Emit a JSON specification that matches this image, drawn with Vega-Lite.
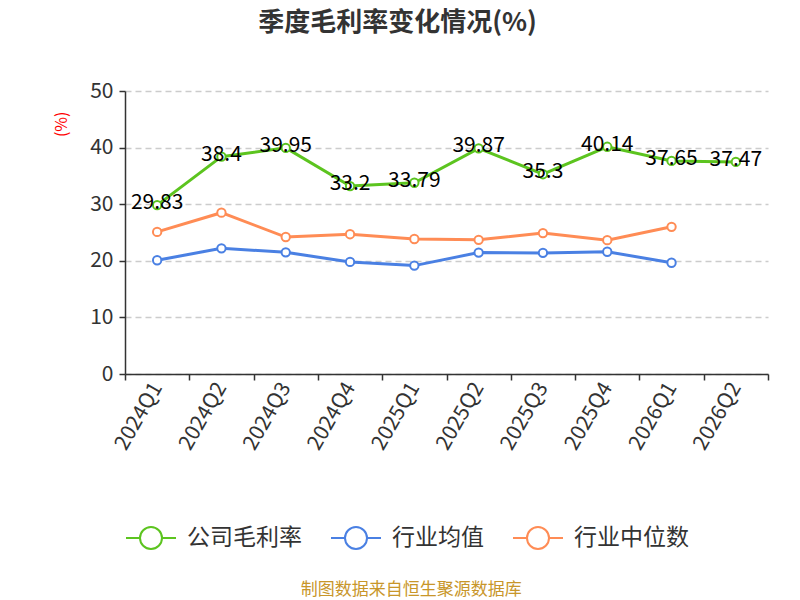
{
  "$schema": "https://vega.github.io/schema/vega-lite/v6.json",
  "background": "white",
  "padding": {"left": 53, "right": 20, "top": 10, "bottom": 0},
  "title": {
    "text": "制图数据来自恒生聚源数据库",
    "orient": "bottom",
    "anchor": "middle",
    "fontSize": 17,
    "fontWeight": "normal",
    "color": "#c8962a",
    "font": "Noto Sans CJK SC",
    "offset": 29
  },
  "config": {
    "font": "Noto Sans CJK SC",
    "view": {"stroke": null}
  },
  "datasets": {
    "rates": [
      {"q": "2024Q1", "series": "公司毛利率", "value": 29.83},
      {"q": "2024Q2", "series": "公司毛利率", "value": 38.4},
      {"q": "2024Q3", "series": "公司毛利率", "value": 39.95},
      {"q": "2024Q4", "series": "公司毛利率", "value": 33.2},
      {"q": "2025Q1", "series": "公司毛利率", "value": 33.79},
      {"q": "2025Q2", "series": "公司毛利率", "value": 39.87},
      {"q": "2025Q3", "series": "公司毛利率", "value": 35.3},
      {"q": "2025Q4", "series": "公司毛利率", "value": 40.14},
      {"q": "2026Q1", "series": "公司毛利率", "value": 37.65},
      {"q": "2026Q2", "series": "公司毛利率", "value": 37.47},
      {"q": "2024Q1", "series": "行业均值", "value": 20.1},
      {"q": "2024Q2", "series": "行业均值", "value": 22.2},
      {"q": "2024Q3", "series": "行业均值", "value": 21.5},
      {"q": "2024Q4", "series": "行业均值", "value": 19.8},
      {"q": "2025Q1", "series": "行业均值", "value": 19.15},
      {"q": "2025Q2", "series": "行业均值", "value": 21.45},
      {"q": "2025Q3", "series": "行业均值", "value": 21.4},
      {"q": "2025Q4", "series": "行业均值", "value": 21.6},
      {"q": "2026Q1", "series": "行业均值", "value": 19.65},
      {"q": "2024Q1", "series": "行业中位数", "value": 25.1},
      {"q": "2024Q2", "series": "行业中位数", "value": 28.5},
      {"q": "2024Q3", "series": "行业中位数", "value": 24.2},
      {"q": "2024Q4", "series": "行业中位数", "value": 24.7},
      {"q": "2025Q1", "series": "行业中位数", "value": 23.85},
      {"q": "2025Q2", "series": "行业中位数", "value": 23.7},
      {"q": "2025Q3", "series": "行业中位数", "value": 24.9},
      {"q": "2025Q4", "series": "行业中位数", "value": 23.65},
      {"q": "2026Q1", "series": "行业中位数", "value": 26.0}
    ]
  },
  "vconcat": [
    {
      "title": {
        "text": "季度毛利率变化情况(%)",
        "fontSize": 26,
        "fontWeight": "bold",
        "color": "#333333",
        "anchor": "middle",
        "dx": -49,
        "offset": 44
      },
      "width": 643,
      "height": 283,
      "data": {"name": "rates"},
      "encoding": {
        "x": {
          "field": "q",
          "type": "ordinal",
          "scale": {"paddingInner": 0, "paddingOuter": 0},
          "axis": {
            "title": null,
            "tickBand": "extent",
            "labelAngle": -60,
            "labelAlign": "right",
            "labelBaseline": "middle",
            "labelFontSize": 21,
            "labelColor": "#333333",
            "labelPadding": 4,
            "domainColor": "#333333",
            "domainWidth": 1.5,
            "tickColor": "#333333",
            "tickSize": 6,
            "tickWidth": 1.5
          }
        },
        "y": {
          "field": "value",
          "type": "quantitative",
          "scale": {"domain": [0, 50], "nice": false},
          "axis": {
            "title": "(%)",
            "titleColor": "red",
            "titleFontSize": 16,
            "titleFontWeight": "normal",
            "titleAnchor": "end",
            "titlePadding": 20,
            "titleY": 20,
            "values": [0, 10, 20, 30, 40, 50],
            "labelFontSize": 21,
            "labelColor": "#333333",
            "labelPadding": 6,
            "domainColor": "#333333",
            "domainWidth": 1.5,
            "tickColor": "#333333",
            "tickSize": 6,
            "tickWidth": 1.5,
            "gridColor": "#cccccc",
            "gridDash": [6, 4],
            "gridWidth": 1.5
          }
        },
        "color": {
          "field": "series",
          "type": "nominal",
          "scale": {
            "domain": ["公司毛利率", "行业均值", "行业中位数"],
            "range": ["#5cc41f", "#4a80e3", "#ff8c55"]
          },
          "legend": {
            "title": null,
            "orient": "bottom",
            "direction": "horizontal",
            "offset": 59,
            "labelFontSize": 23,
            "labelColor": "#333333",
            "labelOffset": 10,
            "columnPadding": 25,
            "symbolType": "M-1,0L-0.44,0M0.44,0L1,0M-0.44,0A0.44,0.44,0,1,1,0.44,0A0.44,0.44,0,1,1,-0.44,0",
            "symbolSize": 2500,
            "symbolStrokeWidth": 2,
            "symbolFillColor": "white"
          }
        }
      },
      "layer": [
        {
          "mark": {
            "type": "line",
            "strokeWidth": 3,
            "point": {"filled": false, "fill": "white", "size": 70, "strokeWidth": 2}
          }
        },
        {
          "transform": [{"filter": "datum.series == '公司毛利率'"}],
          "mark": {
            "type": "text",
            "fontSize": 21,
            "color": "black",
            "baseline": "middle",
            "dy": -2
          },
          "encoding": {
            "text": {"field": "value", "type": "quantitative"},
            "color": {"value": "black"}
          }
        }
      ]
    }
  ]
}
